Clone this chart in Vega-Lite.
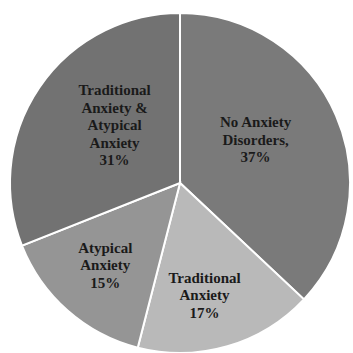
{
  "$schema": "https://vega.github.io/schema/vega-lite/v6.json",
  "width": 353,
  "height": 353,
  "autosize": {"type": "fit", "contains": "padding"},
  "padding": {"left": 7, "top": 13, "right": 0, "bottom": 0},
  "background": "white",
  "data": {
    "values": [
      {"idx": 1, "category": "No Anxiety Disorders", "pct": 37, "label": "No Anxiety\nDisorders,\n37%"},
      {"idx": 2, "category": "Traditional Anxiety", "pct": 17, "label": "Traditional\nAnxiety\n17%"},
      {"idx": 3, "category": "Atypical Anxiety", "pct": 15, "label": "Atypical\nAnxiety\n15%"},
      {"idx": 4, "category": "Traditional Anxiety & Atypical Anxiety", "pct": 31, "label": "Traditional\nAnxiety &\nAtypical\nAnxiety\n31%"}
    ]
  },
  "transform": [
    {"stack": "pct", "groupby": [], "sort": [{"field": "idx", "order": "ascending"}], "as": ["t0", "t1"]},
    {"calculate": "(datum.t0 + datum.t1) / 2", "as": "tmid"}
  ],
  "layer": [
    {
      "mark": {"type": "arc", "radius": 170, "stroke": "white", "strokeWidth": 2},
      "encoding": {
        "theta": {"field": "t0", "type": "quantitative", "scale": {"domain": [0, 100]}},
        "theta2": {"field": "t1"},
        "color": {
          "field": "category",
          "type": "nominal",
          "sort": null,
          "scale": {
            "domain": ["No Anxiety Disorders", "Traditional Anxiety", "Atypical Anxiety", "Traditional Anxiety & Atypical Anxiety"],
            "range": ["#7a7a7a", "#b9b9b9", "#959595", "#727272"]
          },
          "legend": null
        }
      }
    },
    {
      "transform": [{"filter": "datum.idx == 1"}],
      "mark": {"type": "text", "radius": 90, "dx": -7, "dy": -25, "lineBreak": "\n", "font": "Liberation Serif", "fontWeight": "bold", "fontSize": 15, "lineHeight": 17.5, "color": "#1a1a1a", "baseline": "middle", "align": "center"},
      "encoding": {
        "theta": {"field": "tmid", "type": "quantitative", "scale": {"domain": [0, 100]}},
        "text": {"field": "label"}
      }
    },
    {
      "transform": [{"filter": "datum.idx == 2"}],
      "mark": {"type": "text", "radius": 113, "dx": -7, "dy": -14, "lineBreak": "\n", "font": "Liberation Serif", "fontWeight": "bold", "fontSize": 15, "lineHeight": 17.5, "color": "#1a1a1a", "baseline": "middle", "align": "center"},
      "encoding": {
        "theta": {"field": "tmid", "type": "quantitative", "scale": {"domain": [0, 100]}},
        "text": {"field": "label"}
      }
    },
    {
      "transform": [{"filter": "datum.idx == 3"}],
      "mark": {"type": "text", "radius": 113, "dx": 0, "dy": -20, "lineBreak": "\n", "font": "Liberation Serif", "fontWeight": "bold", "fontSize": 15, "lineHeight": 17.5, "color": "#1a1a1a", "baseline": "middle", "align": "center"},
      "encoding": {
        "theta": {"field": "tmid", "type": "quantitative", "scale": {"domain": [0, 100]}},
        "text": {"field": "label"}
      }
    },
    {
      "transform": [{"filter": "datum.idx == 4"}],
      "mark": {"type": "text", "radius": 90, "dx": 9, "dy": -42, "lineBreak": "\n", "font": "Liberation Serif", "fontWeight": "bold", "fontSize": 15, "lineHeight": 17.5, "color": "#1a1a1a", "baseline": "middle", "align": "center"},
      "encoding": {
        "theta": {"field": "tmid", "type": "quantitative", "scale": {"domain": [0, 100]}},
        "text": {"field": "label"}
      }
    }
  ],
  "config": {"view": {"stroke": null}}
}
